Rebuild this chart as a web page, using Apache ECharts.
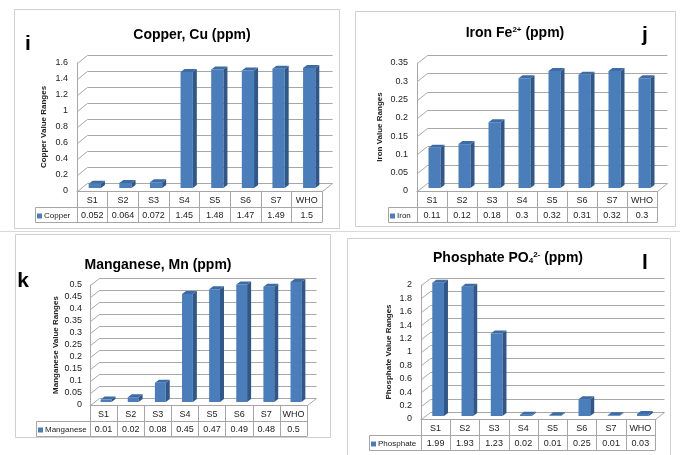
<!DOCTYPE html>
<html><head><meta charset="utf-8">
<script src="https://cdn.jsdelivr.net/npm/echarts@6/dist/echarts.min.js"></script>
<style>html,body{margin:0;padding:0;background:#fff}#c{width:680px;height:455px}</style>
</head><body><div id="c"></div>
<script>
// ---- data ----
const categories = ['S1','S2','S3','S4','S5','S6','S7','WHO'];
const copper = [0.052, 0.064, 0.072, 1.45, 1.48, 1.47, 1.49, 1.5];
const iron = [0.11, 0.12, 0.18, 0.3, 0.32, 0.31, 0.32, 0.3];
const manganese = [0.01, 0.02, 0.08, 0.45, 0.47, 0.49, 0.48, 0.5];
const phosphate = [1.99, 1.93, 1.23, 0.02, 0.01, 0.25, 0.01, 0.03];
const copperTicks = [0, 0.2, 0.4, 0.6, 0.8, 1, 1.2, 1.4, 1.6];
const ironTicks = [0, 0.05, 0.1, 0.15, 0.2, 0.25, 0.3, 0.35];
const manganeseTicks = [0, 0.05, 0.1, 0.15, 0.2, 0.25, 0.3, 0.35, 0.4, 0.45, 0.5];
const phosphateTicks = [0, 0.2, 0.4, 0.6, 0.8, 1, 1.2, 1.4, 1.6, 1.8, 2];
const seriesNames = ['Copper', 'Iron', 'Manganese', 'Phosphate'];
const yNames = ['Copper Value Ranges', 'Iron Value Ranges', 'Manganese Value Ranges', 'Phosphate Value Ranges'];
const titles = ['{t|Copper, Cu (ppm)}', '{t|Iron Fe}{sup|2+}{t| (ppm)}', '{t|Manganese, Mn (ppm)}', '{t|Phosphate PO}{sub|4}{sup|2-}{t| (ppm)}'];
const letters = ['i', 'j', 'k', 'l'];

// ---- styling / layout ----
const FRONT = '#4A7EBB', SIDE = '#2F5789', TOPC = '#3D6BA5';
const GRIDC = '#A8A8A8', BORDER = '#A6A6A6', BOX = '#CFCFCF';
const FONT = 'Liberation Sans';
const values = [copper, iron, manganese, phosphate];
const ticks = [copperTicks, ironTicks, manganeseTicks, phosphateTicks];
const layout = [
  {grid:{left:77, top:63, width:245, height:128}, d:[10,-8], box:[14,9,325,219], title:[192,35], letter:[28,44], cell:[35,42], nameGap:29, labMargin:9},
  {grid:{left:417, top:63, width:240, height:128}, d:[10,-8], box:[355,11,320,215], title:[515,33], letter:[645,35], cell:[388,29], nameGap:33, labMargin:9},
  {grid:{left:90, top:285, width:217, height:120}, d:[9,-7], box:[15,234,315,203], title:[158,265], letter:[23,281], cell:[36,54], nameGap:30, labMargin:8},
  {grid:{left:421, top:285, width:234, height:134}, d:[9,-7], box:[347,238,323,240], title:[508,258], letter:[645,263], cell:[369,52], nameGap:28, labMargin:9}
];

function makeBarRender(d) {
  return function (params, api) {
    const v = api.value(1);
    const base = api.coord([api.value(0), 0]);
    const top = api.coord([api.value(0), v]);
    const colW = api.size([1, 0])[0];
    const w = colW * 0.4;
    const dx = 4, dy = -3, ox = 2.5, oy = -3;
    const x0 = base[0] - w / 2 + ox, x1 = x0 + w;
    const yb = base[1] + oy, yt = top[1] + oy;
    return {type:'group', children:[
      {type:'rect', shape:{x:x0, y:yt, width:w, height:yb - yt}, style:{fill:FRONT}},
      {type:'polygon', shape:{points:[[x1,yt],[x1+dx,yt+dy],[x1+dx,yb+dy],[x1,yb]]}, style:{fill:SIDE}},
      {type:'polygon', shape:{points:[[x0,yt],[x1,yt],[x1+dx,yt+dy],[x0+dx,yt+dy]]}, style:{fill:TOPC}}
    ]};
  };
}
function makeWallRender(d) {
  return function (params, api) {
    const cs = params.coordSys;
    const val = api.value(1);
    const y = Math.round(api.coord([0, val])[1]) + 0.5;
    const L = cs.x + 0.5, R = cs.x + cs.width + 0.5;
    const children = [{type:'polyline', shape:{points:[[L,y],[L+d[0],y+d[1]],[R+d[0],y+d[1]]]}, style:{stroke:GRIDC, lineWidth:1, fill:null}}];
    if (val === 0) children.push({type:'line', shape:{x1:R, y1:y, x2:R+d[0], y2:y+d[1]}, style:{stroke:GRIDC, lineWidth:1}});
    return {type:'group', children};
  };
}

const grid = [], xAxis = [], yAxis = [], series = [], legend = [], graphic = [];
graphic.push({type:'line', shape:{x1:0, y1:231.5, x2:680, y2:231.5}, style:{stroke:'#DADADA', lineWidth:1}, z:0});
layout.forEach((L, g) => {
  grid.push(L.grid);
  const axisLine = {show:true, lineStyle:{color:BORDER}};
  xAxis.push({gridIndex:g, type:'category', data:categories, position:'bottom', axisLine,
    axisTick:{show:true, length:16, lineStyle:{color:BORDER}},
    axisLabel:{interval:0, fontSize:9, margin:5, color:'#222', fontFamily:FONT}});
  xAxis.push({gridIndex:g, type:'category', data:values[g].map(String), position:'bottom', offset:16, axisLine,
    axisTick:{show:true, length:15, lineStyle:{color:BORDER}},
    axisLabel:{interval:0, fontSize:9, margin:4, color:'#222', fontFamily:FONT}});
  xAxis.push({gridIndex:g, type:'category', data:categories, position:'bottom', offset:31, axisLine,
    axisTick:{show:false}, axisLabel:{show:false}});
  const tk = ticks[g];
  yAxis.push({gridIndex:g, type:'value', min:tk[0], max:tk[tk.length-1], interval:tk[1]-tk[0],
    name:yNames[g], nameLocation:'middle', nameGap:L.nameGap, nameRotate:90,
    nameTextStyle:{fontSize:8, fontWeight:'bold', color:'#222', fontFamily:FONT},
    axisLine:{show:true, lineStyle:{color:GRIDC}}, axisTick:{show:false}, splitLine:{show:false},
    axisLabel:{fontSize:9, margin:L.labMargin, color:'#222', fontFamily:FONT}});
  series.push({type:'custom', name:'wall'+g, xAxisIndex:g*3, yAxisIndex:g, clip:false, z:1, silent:true,
    renderItem:makeWallRender(L.d), data:tk.map(t => [0, t]), encode:{x:0, y:1}});
  series.push({type:'custom', name:seriesNames[g], xAxisIndex:g*3, yAxisIndex:g, clip:false, z:3,
    itemStyle:{color:FRONT}, renderItem:makeBarRender(L.d),
    data:values[g].map((v, i) => [i, v]), encode:{x:0, y:1}});
  const cellTop = L.grid.top + L.grid.height + 16;
  legend.push({data:[{name:seriesNames[g], icon:'rect'}], left:L.cell[0] + 2, top:cellTop + 5, padding:0,
    itemWidth:5, itemHeight:5, textStyle:{fontSize:8, color:'#222', fontFamily:FONT, padding:[0,0,0,-3]}, selectedMode:false});
  graphic.push({type:'rect', shape:{x:L.cell[0] + 0.5, y:cellTop + 0.5, width:L.grid.left - L.cell[0], height:15}, style:{fill:null, stroke:BORDER, lineWidth:1}, z:5});
  graphic.push({type:'rect', shape:{x:L.box[0] + 0.5, y:L.box[1] + 0.5, width:L.box[2], height:L.box[3]}, style:{fill:null, stroke:BOX, lineWidth:1}, z:0});
  graphic.push({type:'text', x:L.title[0], y:L.title[1], z:5, style:{text:titles[g], align:'center', verticalAlign:'middle', fill:'#000',
    rich:{t:{fontSize:14, fontWeight:'bold', fontFamily:FONT, fill:'#000'},
          sup:{fontSize:8, fontWeight:'bold', fontFamily:FONT, verticalAlign:'top', fill:'#000'},
          sub:{fontSize:8, fontWeight:'bold', fontFamily:FONT, verticalAlign:'bottom', fill:'#000'}}}});
  graphic.push({type:'text', x:L.letter[0], y:L.letter[1], z:5, style:{text:letters[g], align:'center', verticalAlign:'middle', fill:'#000',
    fontSize:21, fontWeight:'bold', fontFamily:FONT}});
});

const chart = echarts.init(document.getElementById('c'), null, {renderer:'canvas'});
chart.setOption({animation:false, textStyle:{fontFamily:FONT}, grid, xAxis, yAxis, series, legend, graphic});
</script></body></html>
